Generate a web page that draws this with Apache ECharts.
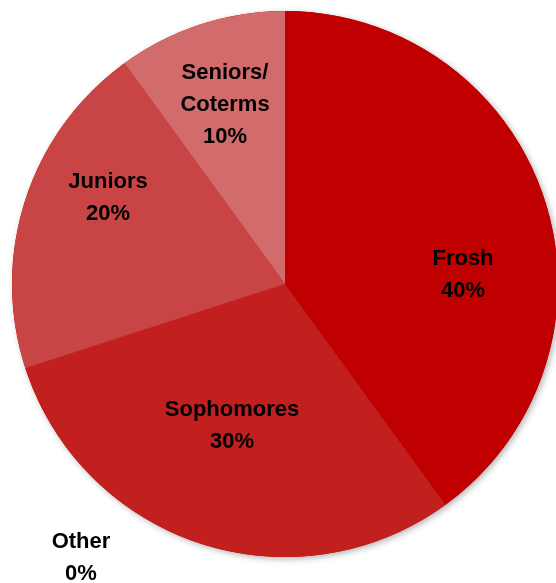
<!DOCTYPE html>
<html><head><meta charset="utf-8">
<script src="https://cdn.jsdelivr.net/npm/echarts@6/dist/echarts.min.js"></script>
<style>html,body{margin:0;padding:0;background:#fff}#c{width:556px;height:583px}</style>
</head><body><div id="c"></div>
<script>
const categories = ['Frosh', 'Sophomores', 'Juniors', 'Seniors/\nCoterms', 'Other'];
const values = [40, 30, 20, 10, 0];
const colors = ['#C00000', '#C1201F', '#C94545', '#D26B6B', '#D9D9D9'];
const labelPos = [[463, 275], [232, 426], [108, 198], [225, 105], [81, 558]];

const chart = echarts.init(document.getElementById('c'));
chart.setOption({
  animation: false,
  series: [{
    type: 'pie',
    z: 1,
    silent: true,
    center: [285, 284],
    radius: 273,
    data: [{ value: 1, itemStyle: { color: '#C00000' } }],
    itemStyle: { shadowBlur: 6, shadowColor: 'rgba(0,0,0,0.3)', shadowOffsetX: 2, shadowOffsetY: 2 },
    label: { show: false },
    labelLine: { show: false },
    emphasis: { disabled: true }
  }, {
    type: 'pie',
    z: 2,
    center: [285, 284],
    radius: 273,
    startAngle: 90,
    clockwise: true,
    data: categories.map((n, i) => ({ name: n, value: values[i], itemStyle: { color: colors[i] } })),
    label: {
      show: true,
      position: 'inside',
      formatter: p => p.name + '\n' + Math.round(p.percent) + '%',
      fontFamily: 'Liberation Sans',
      fontWeight: 'bold',
      fontSize: 22,
      lineHeight: 32,
      color: '#000',
      align: 'center'
    },
    labelLine: { show: false },
    labelLayout: p => ({ x: labelPos[p.dataIndex][0], y: labelPos[p.dataIndex][1], align: 'center', verticalAlign: 'middle' }),
    emphasis: { disabled: true }
  }]
});
</script></body></html>
